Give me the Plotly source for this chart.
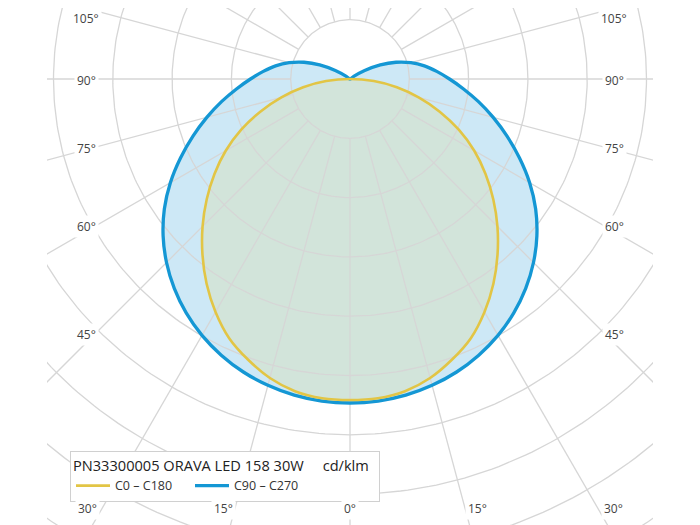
import numpy as np
import plotly.graph_objects as go

# ---------------- data (cd/klm) ----------------
gamma_c0 = [0, 5, 10, 15, 20, 25, 30, 35, 40, 45, 50, 55, 60, 65, 70, 75, 80, 85, 90]
int_c0 = [270.7, 270.2, 267.3, 261.0, 251.7, 241.1, 226.8, 210.8, 193.5, 175.8,
          157.7, 139.5, 121.0, 101.2, 80.5, 59.9, 40.1, 20.2, 0.0]

gamma_c90 = [0, 5, 10, 15, 20, 25, 30, 35, 40, 45, 50, 55, 60, 65, 70, 75, 80, 85, 90,
             95, 100, 105, 110, 115, 120, 125, 130]
int_c90 = [273.2, 272.6, 270.7, 267.4, 262.9, 256.9, 249.6, 240.8, 230.5, 218.8,
           205.7, 191.1, 174.9, 157.7, 140.9, 125.0, 110.0, 96.1, 83.9,
           73.4, 63.7, 53.1, 41.3, 28.2, 14.3, 3.8, 0.0]

series_names = ["C0 \u2013 C180", "C90 \u2013 C270"]
legend_title = "PN33300005 ORAVA LED 158 30W"
unit_label = "cd/klm"

ring_values = [50, 100, 150, 200, 250, 300, 350, 400, 450, 500]
spoke_angles = list(range(0, 360, 15))
side_labels = [105, 90, 75, 60, 45]
bottom_labels = [30, 15, 0]

# ---------------- layout geometry (figure pixels) ----------------
PX = 59.3 / 50.0          # pixels per cd/klm
W, H = 700, 525
CX, CY = 342, 71          # pole position
ML, MR = 39, 55           # grid clip rectangle (left / right margins)
side_y_px = [10, 72, 140, 218, 326]     # label rows for side_labels
side_dx_px = 264                        # label column offset from pole
bottom_y_px = 500
bottom_dx_px = [263, 127, 0]            # label offsets for bottom_labels


def polar_xy(theta_deg, r):
    t = np.radians(np.asarray(theta_deg, dtype=float))
    r = np.asarray(r, dtype=float)
    return r * np.sin(t), -r * np.cos(t)


def closed_curve(gammas, vals):
    th = [-g for g in gammas[::-1]] + gammas[1:]
    rr = vals[::-1] + vals[1:]
    return polar_xy(th, rr)


fig = go.Figure()

# fills
bx, by = closed_curve(gamma_c90, int_c90)
yx, yy = closed_curve(gamma_c0, int_c0)
line_shape = dict(shape="spline", smoothing=1.0)
fig.add_trace(go.Scatter(x=bx, y=by, mode="lines", fill="toself",
                         fillcolor="#cde8f6", line=dict(width=0, **line_shape),
                         showlegend=False, hoverinfo="skip"))
fig.add_trace(go.Scatter(x=yx, y=yy, mode="lines", fill="toself",
                         fillcolor="#d2e4da", line=dict(width=0, **line_shape),
                         showlegend=False, hoverinfo="skip"))

# grid circles
full = np.linspace(0, 360, 361)
gx, gy = [], []
for rv in ring_values:
    x, y = polar_xy(full, np.full_like(full, rv))
    gx += list(x) + [None]
    gy += list(y) + [None]
fig.add_trace(go.Scatter(x=gx, y=gy, mode="lines", line=dict(color="#d6d6d6", width=1.3),
                         showlegend=False, hoverinfo="skip"))

# grid spokes (start at first ring)
sx, sy = [], []
for a in spoke_angles:
    x, y = polar_xy([a, a], [ring_values[0], 700])
    sx += list(x) + [None]
    sy += list(y) + [None]
fig.add_trace(go.Scatter(x=sx, y=sy, mode="lines", line=dict(color="#d6d6d6", width=1.3),
                         showlegend=False, hoverinfo="skip"))

# outlines
fig.add_trace(go.Scatter(x=bx, y=by, mode="lines", name=series_names[1], legendrank=2,
                         line=dict(color="#1497d4", width=3.3, **line_shape)))
fig.add_trace(go.Scatter(x=yx, y=yy, mode="lines", name=series_names[0], legendrank=1,
                         line=dict(color="#e2c545", width=2.6, **line_shape)))

# angle labels
font_lab = dict(family="Open Sans, Noto Sans, sans-serif", size=12, color="#444444")
annotations = []
for lab, ypx in zip(side_labels, side_y_px):
    for sgn in (-1, 1):
        annotations.append(dict(x=sgn * side_dx_px / PX, y=-(ypx - CY) / PX, xref="x", yref="y",
                                text=f"{lab}\u00b0", showarrow=False, bgcolor="white",
                                borderpad=2, font=font_lab))
for lab, dx in zip(bottom_labels, bottom_dx_px):
    for sgn in ((-1, 1) if dx else (1,)):
        annotations.append(dict(x=sgn * dx / PX, y=-(bottom_y_px - CY) / PX, xref="x", yref="y",
                                text=f"{lab}\u00b0", showarrow=False, bgcolor="white",
                                borderpad=2, font=font_lab))

pw = W - ML - MR
fig.update_layout(
    width=W, height=H,
    margin=dict(l=ML, r=MR, t=0, b=0, pad=0),
    paper_bgcolor="white", plot_bgcolor="white",
    xaxis=dict(range=[-(CX - ML) / PX, (W - MR - CX) / PX], visible=False, fixedrange=True),
    yaxis=dict(range=[-(H - CY) / PX, CY / PX], visible=False, fixedrange=True),
    showlegend=True,
    legend=dict(
        x=(62 - ML) / pw, y=1 - 443 / H, xanchor="left", yanchor="top",
        orientation="h", bgcolor="white", bordercolor="#d0d0d0", borderwidth=1,
        font=dict(family="Open Sans, Noto Sans, sans-serif", size=12.5, color="#333333"),
        title=dict(text=legend_title + "&nbsp;" * 5 + unit_label + "&nbsp;" * 2, side="top",
                   font=dict(family="Open Sans, Noto Sans, sans-serif", size=14.6, color="#222222")),
        itemwidth=34, entrywidth=70, entrywidthmode="pixels", tracegroupgap=0,
    ),
    annotations=annotations,
)

fig.write_html("out.html")
